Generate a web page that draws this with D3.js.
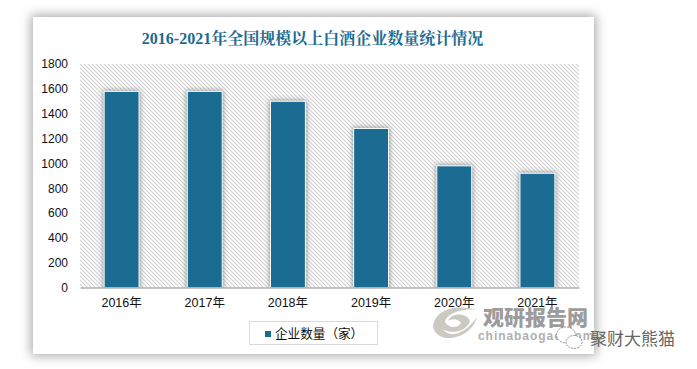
<!DOCTYPE html>
<html><head><meta charset="utf-8">
<script src="https://cdn.jsdelivr.net/npm/d3@7/dist/d3.min.js"></script>
<style>html,body{margin:0;padding:0;background:#fff;overflow:hidden}svg{display:block}</style>
</head><body><svg id="c" width="697" height="369"></svg>
<script>
const categories=["2016年","2017年","2018年","2019年","2020年","2021年"];
const values=[1580,1580,1500,1281,980,920];
const yTicks=[0,200,400,600,800,1000,1200,1400,1600,1800];
const titleText="2016-2021年全国规模以上白酒企业数量统计情况";
const legendText="企业数量（家）";
const BLUE="#1b6c92";
const sans="'Liberation Sans','Noto Sans CJK SC',sans-serif";
const svg=d3.select("#c");
const defs=svg.append("defs");
const card=defs.append("filter").attr("id","cardShadow").attr("x","-10%").attr("y","-10%").attr("width","120%").attr("height","120%");
card.append("feGaussianBlur").attr("stdDeviation",5.5);
const bar=defs.append("filter").attr("id","barShadow").attr("x","-40%").attr("y","-15%").attr("width","180%").attr("height","130%");
bar.append("feGaussianBlur").attr("stdDeviation",2.6);
const hp=defs.append("pattern").attr("id","hatch").attr("width",4).attr("height",4).attr("patternUnits","userSpaceOnUse");
hp.append("rect").attr("width",4).attr("height",4).attr("fill","#fff");
hp.append("path").attr("d","M0,0 L4,4 M-1,3 L1,5 M3,-1 L5,1").attr("stroke","#d4d4d4").attr("stroke-width",1.2);

const x=d3.scaleBand().domain(categories).range([80,579]).paddingInner(0.58).paddingOuter(0.29);
const y=d3.scaleLinear().domain([0,1800]).range([287.5,64]);

// card
svg.append("rect").attr("x",31).attr("y",15).attr("width",565).attr("height",341).attr("fill","#a8a8a8").attr("filter","url(#cardShadow)");
svg.append("rect").attr("x",33).attr("y",17).attr("width",561).attr("height",337).attr("fill","#fff");

// plot background
svg.append("rect").attr("x",80).attr("y",64).attr("width",499).attr("height",223.5).attr("fill","url(#hatch)");

// title
svg.append("text").attr("x",312.5).attr("y",44).attr("text-anchor","middle")
 .attr("font-family","'Liberation Serif','Noto Serif CJK SC','Noto Sans CJK SC',serif").attr("font-weight","bold").attr("font-size",16).attr("fill",BLUE).text(titleText);

// bars
const plotClip=defs.append("clipPath").attr("id","pc");
plotClip.append("rect").attr("x",80).attr("y",50).attr("width",499).attr("height",237.5);
const gb=svg.append("g").attr("clip-path","url(#pc)");
gb.selectAll("rect.s").data(values).join("rect").attr("class","s")
 .attr("x",(d,i)=>x(categories[i])-1).attr("y",d=>y(d)-1)
 .attr("width",x.bandwidth()+2).attr("height",d=>y(0)-y(d)+4)
 .attr("fill","#555").attr("fill-opacity",0.6).attr("filter","url(#barShadow)");
gb.selectAll("rect.b").data(values).join("rect").attr("class","b")
 .attr("x",(d,i)=>x(categories[i])).attr("y",d=>y(d))
 .attr("width",x.bandwidth()).attr("height",d=>y(0)-y(d))
 .attr("fill",BLUE).attr("stroke","#fff").attr("stroke-width",1);

// axes
const yAxis=svg.append("g").attr("transform","translate(80,0)").call(d3.axisLeft(y).tickValues(yTicks).tickSize(0).tickPadding(12).tickFormat(d3.format("d")));
yAxis.select(".domain").remove();
yAxis.selectAll("text").attr("font-family",sans).attr("font-size",12).attr("fill","#111");
const xAxis=svg.append("g").attr("transform","translate(0,287.5)").call(d3.axisBottom(x).tickSize(0).tickPadding(11));
xAxis.select(".domain").attr("stroke","#8a8a8a").attr("stroke-width",1);
xAxis.selectAll("text").attr("font-family",sans).attr("font-size",12.5).attr("fill","#111");

// legend
svg.append("rect").attr("x",249.5).attr("y",321.5).attr("width",128).attr("height",23).attr("fill","#fff").attr("stroke","#d9d9d9");
svg.append("rect").attr("x",265).attr("y",331).attr("width",6).attr("height",6).attr("fill",BLUE);
svg.append("text").attr("x",275).attr("y",338).attr("font-family","'Noto Sans CJK SC',sans-serif").attr("font-size",12.6).attr("fill","#111").text(legendText);

// watermark
const wm=svg.append("g");
wm.append("path").attr("d","M433,327 C434,312 452,303 477,310 C462,308 446,314 445,322 C449,329 458,328 461,323 C457,318 451,319 448,321 C452,312 467,313 470,321 C466,333 450,334 442,329 C449,337 463,337 477,317 C473,332 458,339 446,338 C439,337 434,332 433,327Z").attr("fill","#c4c4bd").attr("fill-opacity",0.9);
wm.append("text").attr("x",483).attr("y",325).attr("font-family","'Noto Sans CJK SC',sans-serif").attr("font-weight","900").attr("font-size",21).attr("fill","#9c9c9c").text("观研报告网");
wm.append("text").attr("x",478).attr("y",340).attr("font-family",sans).attr("font-weight","bold").attr("font-size",12).attr("letter-spacing",0.95).attr("fill","#b0b0b0").text("chinabaogao.com");
wm.append("ellipse").attr("cx",566).attr("cy",335).attr("rx",9.5).attr("ry",8).attr("fill","#fff").attr("stroke","#777").attr("stroke-width",0.8).attr("stroke-dasharray","2 1");
wm.append("ellipse").attr("cx",574).attr("cy",342).attr("rx",8).attr("ry",6.5).attr("fill","#fff").attr("stroke","#777").attr("stroke-width",0.8).attr("stroke-dasharray","2 1");
wm.append("text").attr("x",590).attr("y",345).attr("font-family","'Noto Sans CJK SC',sans-serif").attr("font-size",17).attr("fill","#666").text("聚财大熊猫");
</script></body></html>
